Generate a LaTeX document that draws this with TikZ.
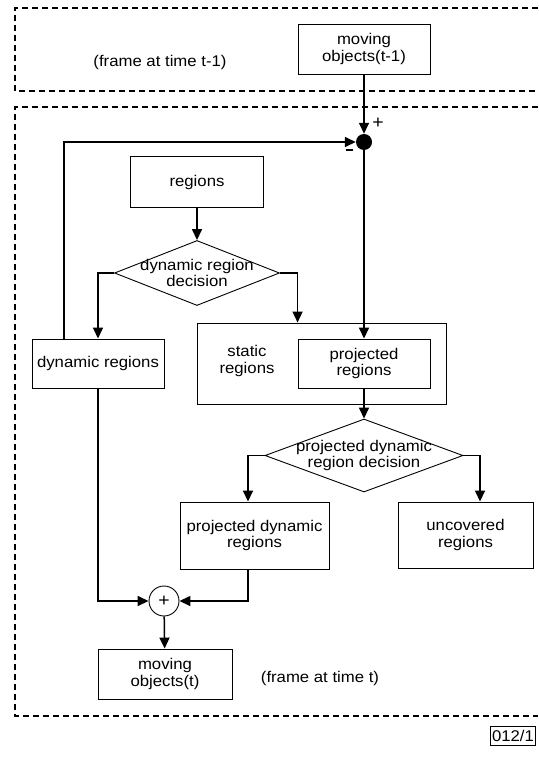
\documentclass[tikz,border=0pt]{standalone}
\usepackage{fontspec}
\setmainfont{Liberation Sans}[FakeStretch=1.08]
\usetikzlibrary{shapes.geometric,arrows.meta,calc}
\begin{document}
\begin{tikzpicture}[x=1pt,y=-1pt,
 box/.style={draw, line width=0.9pt, align=center, inner sep=0pt, font=\fontsize{15.5}{16.5}\selectfont},
 dec/.style={draw, diamond, line width=0.9pt, inner sep=0pt},
 lbl/.style={align=center, inner sep=0pt, font=\fontsize{15.5}{13.5}\selectfont},
 plain/.style={align=center, inner sep=0pt, font=\fontsize{15.5}{16.5}\selectfont},
 sign/.style={inner sep=0pt, font=\fontsize{18}{18}\selectfont},
 arr/.style={line width=1.5pt, -{Triangle[length=11pt,width=10pt]}},
 frame/.style={line width=1.1pt, dash pattern=on 6pt off 4pt}]
\useasboundingbox (0,0) rectangle (538,759);
% dashed frames
\coordinate (f1a) at (538,8);
\coordinate (f1b) at (15,8);
\coordinate (f1c) at (15,91);
\coordinate (f1d) at (538,91);
\draw[frame] (f1a) -- (f1b) -- (f1c) -- (f1d);
\coordinate (f2a) at (538,107);
\coordinate (f2b) at (15,107);
\coordinate (f2c) at (15,716);
\coordinate (f2d) at (538,716);
\draw[frame] (f2a) -- (f2b) -- (f2c) -- (f2d);
% helper x positions
\coordinate (fbx) at (64,0);
\coordinate (pdrx) at (248,0);
\coordinate (uncx) at (480,0);
% nodes
\node[plain] (t1) at (160,62) {(frame at time t-1)};
\node[box, minimum width=132pt, minimum height=50pt] (mo1) at (364,49) {moving\\objects(t-1)};
\node[circle, fill=black, inner sep=0pt, minimum size=16pt] (dot) at (364,142) {};
\node[sign] (plus) at (378,123) {+};
\node[inner sep=0pt] (minus) at (349,150) {\rule{7pt}{1.2pt}};
\node[box, minimum width=133pt, minimum height=51pt] (reg) at (197,182) {regions};
\node[dec, minimum width=165pt, minimum height=65pt] (d1) at (197,273) {};
\node[lbl] (d1t) at (197,273) {dynamic region\\decision};
\node[box, minimum width=132pt, minimum height=49pt] (dyn) at (98,363.5) {dynamic regions};
\node[draw, line width=0.9pt, inner sep=0pt, minimum width=249pt, minimum height=81pt] (stat) at (321.5,363.5) {};
\node[plain] (statt) at (247,361) {static\\regions};
\node[box, minimum width=132pt, minimum height=49pt] (proj) at (364,363.5) {projected\\regions};
\node[dec, minimum width=198pt, minimum height=73pt] (d2) at (364,455.5) {};
\node[lbl] (d2t) at (364,455.5) {projected dynamic\\region decision};
\node[box, minimum width=149pt, minimum height=67pt] (pdr) at (254.5,535.5) {projected dynamic\\regions};
\node[box, minimum width=135pt, minimum height=66pt] (unc) at (465.5,535) {uncovered\\regions};
\node[draw, circle, line width=0.9pt, inner sep=0pt, minimum size=30pt] (sum) at (164,601) {};
\node[sign] (sumt) at (164,601) {+};
\node[box, minimum width=134pt, minimum height=50pt] (mot) at (165,674) {moving\\objects(t)};
\node[plain] (t2) at (320,678) {(frame at time t)};
\node[box, minimum width=45pt, minimum height=19pt] (id) at (513,736) {012/1};
% connectors
\draw[arr] (mo1) -- (dot);
\draw[arr] (dyn.north -| fbx) |- (dot.west);
\draw[arr] (dot) -- (proj.north);
\draw[arr] (reg) -- (d1.north);
\draw[arr] (d1.west) -| (dyn.north);
\draw[arr] (d1.east) -| (stat.north -| proj.west);
\draw[arr] (proj.south) -- (d2.north);
\draw[arr] (d2.west) -| (pdr.north -| pdrx);
\draw[arr] (d2.east) -| (unc.north -| uncx);
\draw[arr] (dyn.south) |- (sum.west);
\draw[arr] (pdr.south -| pdrx) |- (sum.east);
\draw[arr] (sum) -- (mot);
\end{tikzpicture}
\end{document}
